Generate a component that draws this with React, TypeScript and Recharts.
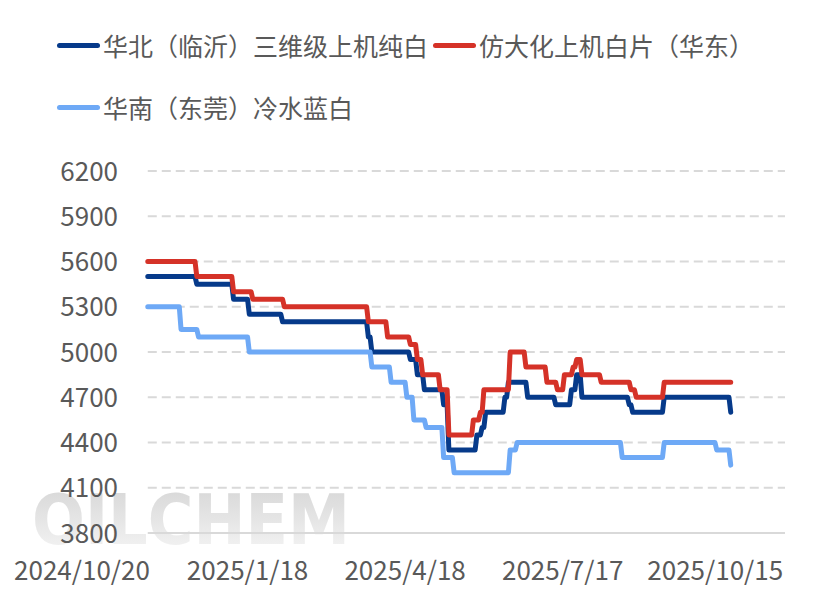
import { LineChart, Line, XAxis, YAxis, ReferenceLine } from 'recharts'

// price breakpoints: each value holds from its date until the next date
const northDates = ['2024-11-22', '2024-12-20', '2025-01-10', '2025-01-19', '2025-02-07', '2025-03-28', '2025-03-30', '2025-04-21', '2025-04-25', '2025-04-29', '2025-05-10', '2025-05-13', '2025-05-29', '2025-06-01', '2025-06-03', '2025-06-14', '2025-06-16', '2025-06-27', '2025-07-13', '2025-07-22', '2025-07-25', '2025-07-28', '2025-08-24', '2025-08-26', '2025-09-13', '2025-10-21']
const northValues = [5500, 5450, 5350, 5250, 5200, 5100, 5000, 4950, 4850, 4750, 4650, 4350, 4450, 4500, 4600, 4700, 4800, 4700, 4650, 4750, 4850, 4700, 4650, 4600, 4700, 4600]

const eastDates = ['2024-11-22', '2024-12-20', '2025-01-10', '2025-01-21', '2025-02-08', '2025-03-28', '2025-04-08', '2025-04-21', '2025-04-25', '2025-04-28', '2025-05-08', '2025-05-13', '2025-05-27', '2025-05-31', '2025-06-02', '2025-06-17', '2025-06-26', '2025-07-08', '2025-07-14', '2025-07-18', '2025-07-23', '2025-07-25', '2025-07-28', '2025-08-08', '2025-08-25', '2025-08-28', '2025-09-13', '2025-10-21']
const eastValues = [5600, 5500, 5400, 5350, 5300, 5200, 5100, 5050, 4950, 4850, 4750, 4450, 4550, 4600, 4750, 5000, 4900, 4800, 4750, 4850, 4900, 4950, 4850, 4800, 4750, 4700, 4800, 4800]

const southDates = ['2024-11-22', '2024-12-11', '2024-12-21', '2025-01-19', '2025-03-30', '2025-04-10', '2025-04-19', '2025-04-23', '2025-04-30', '2025-05-10', '2025-05-16', '2025-06-17', '2025-06-21', '2025-08-20', '2025-09-13', '2025-10-13', '2025-10-21']
const southValues = [5300, 5150, 5100, 5000, 4900, 4800, 4700, 4550, 4500, 4300, 4200, 4350, 4400, 4300, 4400, 4350, 4250]

const tickDates = ['2024-10-20', '2025-01-18', '2025-04-18', '2025-07-17', '2025-10-15']
const tickLabels = ['2024/10/20', '2025/1/18', '2025/4/18', '2025/7/17', '2025/10/15']
const yTicks = [3800, 4100, 4400, 4700, 5000, 5300, 5600, 5900, 6200]

const seriesNames = ['华北（临沂）三维级上机纯白', '仿大化上机白片（华东）', '华南（东莞）冷水蓝白']
const COLORS = ['#063a8a', '#d53228', '#6ea9f6']

const BASE = Date.UTC(2024, 9, 20)
const toDay = (s: string) => {
    const [y, m, d] = s.split('-').map(Number)
    return Math.round((Date.UTC(y, m - 1, d) - BASE) / 86400000)
}

// daily series: hold each value until the day before the next change
function toSteps(dates: string[], values: number[]) {
    const pts: { d: number, v: number }[] = []
    dates.forEach((s, i) => {
        const d = toDay(s)
        pts.push({ d, v: values[i] })
        if (i < dates.length - 1) {
            const nd = toDay(dates[i + 1])
            if (nd - 1 > d) pts.push({ d: nd - 1, v: values[i] })
        }
    })
    return pts
}

const north = toSteps(northDates, northValues)
const east = toSteps(eastDates, eastValues)
const south = toSteps(southDates, southValues)

const FONT = '"Noto Sans CJK SC", "Noto Sans", sans-serif'
const TEXT = '#595959'
const GRID_START = toDay('2024-11-22')
const DOMAIN_END = 397

const XTick = (props: any) => {
    const { x, payload, index } = props
    const i = tickDates.findIndex(s => toDay(s) === payload.value)
    const dx = index === 0 ? -8 : index === tickDates.length - 1 ? -5 : 0
    return (
        <text x={x + dx} y={580} textAnchor="middle" fill={TEXT} fontSize={26} fontFamily={FONT}>
            {tickLabels[i]}
        </text>
    )
}

const YTick = (props: any) => {
    const { y, payload } = props
    return (
        <text x={118} y={y + 9.5} textAnchor="end" fill={TEXT} fontSize={26} fontFamily={FONT}>
            {payload.value}
        </text>
    )
}

function LegendItem({ color, label, left, top }: { color: string, label: string, left: number, top: number }) {
    return (
        <div style={{ position: 'absolute', left, top: top - 18, height: 36, display: 'flex', alignItems: 'center', whiteSpace: 'nowrap' }}>
            <span style={{ display: 'inline-block', width: 43, height: 5, borderRadius: 3, background: color, marginRight: 3 }} />
            <span style={{ fontSize: 25, color: TEXT, fontFamily: FONT }}>{label}</span>
        </div>
    )
}

export default function App() {
    return (
        <div style={{ position: 'absolute', left: 0, top: 0, width: 832, height: 591, background: '#ffffff', overflow: 'hidden' }}>
            {/* watermark */}
            <svg width={832} height={591} style={{ position: 'absolute', left: 0, top: 0 }}>
                <defs>
                    <linearGradient id="wm" x1="0" y1="0" x2="0" y2="1">
                        <stop offset="0%" stopColor="#d4d4d4" />
                        <stop offset="100%" stopColor="#f7f7f7" />
                    </linearGradient>
                </defs>
                <text x={32} y={544} fontSize={70} fontWeight="bold" fontFamily='"DejaVu Sans Condensed", "DejaVu Sans", sans-serif'
                    fill="url(#wm)" textLength={318} lengthAdjust="spacingAndGlyphs">OILCHEM</text>
            </svg>

            <div style={{ position: 'absolute', left: 0, top: 0 }}>
                <LineChart width={832} height={591} margin={{ top: 171, right: 47, left: 30, bottom: 28 }}>
                    <XAxis
                        type="number"
                        dataKey="d"
                        domain={[0, DOMAIN_END]}
                        ticks={tickDates.map(toDay)}
                        tick={<XTick />}
                        axisLine={false}
                        tickLine={false}
                        height={30}
                        allowDataOverflow
                    />
                    <YAxis
                        type="number"
                        domain={[3800, 6200]}
                        ticks={yTicks}
                        tick={<YTick />}
                        axisLine={false}
                        tickLine={false}
                        width={60}
                        allowDataOverflow
                    />
                    {yTicks.map(v => (
                        <ReferenceLine
                            key={v}
                            segment={[{ x: GRID_START, y: v }, { x: DOMAIN_END, y: v }]}
                            stroke="#d9d9d9"
                            strokeWidth={2}
                            strokeDasharray={v === 3800 ? undefined : '9 5'}
                        />
                    ))}
                    <Line data={north} dataKey="v" name={seriesNames[0]} type="linear" stroke={COLORS[0]} strokeWidth={5}
                        dot={false} isAnimationActive={false} strokeLinejoin="round" strokeLinecap="round" />
                    <Line data={east} dataKey="v" name={seriesNames[1]} type="linear" stroke={COLORS[1]} strokeWidth={5}
                        dot={false} isAnimationActive={false} strokeLinejoin="round" strokeLinecap="round" />
                    <Line data={south} dataKey="v" name={seriesNames[2]} type="linear" stroke={COLORS[2]} strokeWidth={5}
                        dot={false} isAnimationActive={false} strokeLinejoin="round" strokeLinecap="round" />
                </LineChart>
            </div>

            <LegendItem color={COLORS[0]} label={seriesNames[0]} left={57} top={45} />
            <LegendItem color={COLORS[1]} label={seriesNames[1]} left={433} top={45} />
            <LegendItem color={COLORS[2]} label={seriesNames[2]} left={57} top={107} />
        </div>
    )
}
